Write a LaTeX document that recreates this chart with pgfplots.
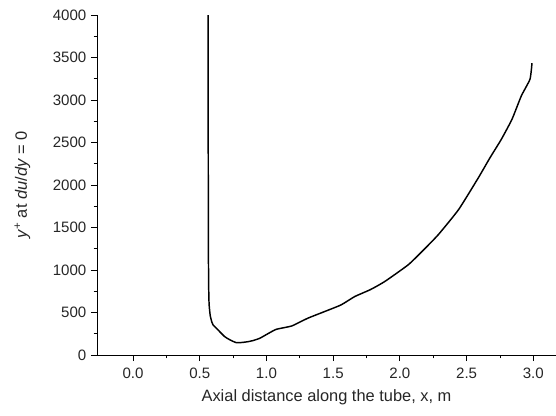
\documentclass[border=0pt]{standalone}
\usepackage{pgfplots}
\pgfplotsset{compat=1.18}
\usepackage{fontspec}
\setmainfont{Liberation Sans}
\begin{document}
\begin{tikzpicture}
\useasboundingbox (-72.75pt,-45pt) rectangle (344.25pt,266.25pt);
\begin{axis}[
  at={(0pt,0pt)}, anchor=south west,
  scale only axis,
  width=344.25pt, height=255pt,
  xmin=-0.27, xmax=3.17,
  ymin=0, ymax=4000,
  axis lines*=left,
  tick align=outside,
  major tick length=4.5pt,
  minor tick length=2.5pt,
  xtick={0,0.5,...,3.0},
  ytick={0,500,...,4000},
  minor x tick num=1,
  minor y tick num=1,
  every tick/.style={black, line width=0.6pt},
  axis line style={line width=0.7pt},
  /pgf/number format/assume math mode=true,
  x tick label style={/pgf/number format/fixed, /pgf/number format/fixed zerofill, /pgf/number format/precision=1, yshift=-2pt},
  y tick label style={/pgf/number format/1000 sep={}},
  tick label style={font=\fontsize{11.3}{13}\selectfont, color=black!85},
  label style={font=\fontsize{12.3}{14}\selectfont, color=black!85},
  xlabel={Axial distance along the tube, x, m},
  xlabel style={yshift=-1pt},
  ylabel={\textit{y}\textsuperscript{+} at \textit{du}/\textit{dy} = 0},
  ylabel style={yshift=10pt},
  clip=false,
]
\addplot[black, line width=1.1pt, smooth, tension=0.3] coordinates {
(0.562,4000) (0.563,3000) (0.564,2000) (0.565,1200) (0.567,800)
(0.570,600) (0.578,470) (0.590,390) (0.600,354) (0.640,290)
(0.687,216) (0.730,175) (0.775,145) (0.820,148) (0.862,157)
(0.900,170) (0.950,197) (1.010,250) (1.075,303) (1.190,342)
(1.310,433) (1.450,520) (1.560,590) (1.662,688) (1.780,770)
(1.887,865) (2.063,1062) (2.180,1240) (2.288,1416) (2.440,1711)
(2.588,2085) (2.675,2320) (2.760,2537) (2.840,2773)
(2.910,3048) (2.975,3245) (2.990,3434)
};
\end{axis}
\end{tikzpicture}
\end{document}
